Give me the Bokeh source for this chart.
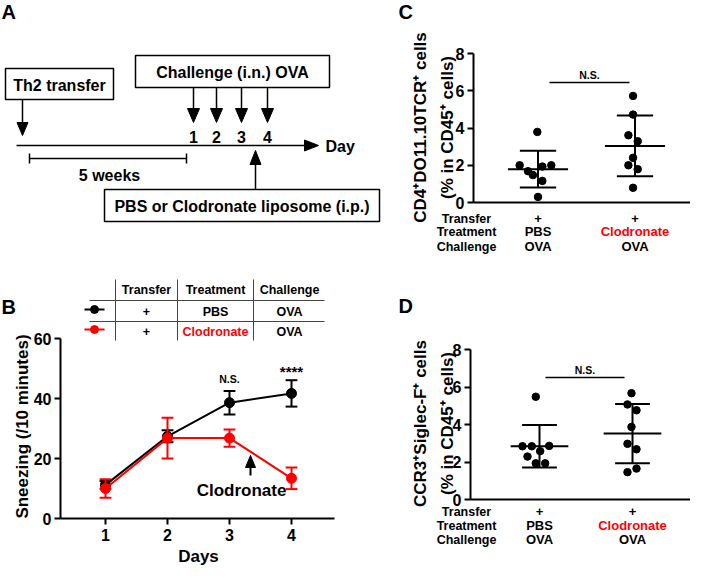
import numpy as np
from bokeh.plotting import figure
from bokeh.models import Range1d, FixedTicker, LinearAxis
from bokeh.embed import file_html
from bokeh.resources import INLINE
from bokeh.core.properties import value

FONT = "Liberation Sans"
RED = "#ff0000"

# ---------------- data ----------------
# Panel B: sneezing counts (mean +/- error)
days = [1, 2, 3, 4]
pbs_mean = [11.2, 27.4, 38.6, 41.7]
pbs_err = [1.3, 2.0, 3.9, 4.4]
clo_mean = [10.0, 26.8, 26.8, 13.4]
clo_err = [3.1, 6.8, 2.9, 3.6]
b_sig_days = [3, 4]
b_sig_text = ["N.S.", "****"]
b_sig_y = [46.4, 48.9]
b_yticks = [0, 20, 40, 60]

# Panel C: CD4+DO11.10TCR+ cells (% in CD45+)
c_pbs = [3.79, 2.00, 1.93, 2.00, 1.68, 1.47, 1.16, 0.30]
c_clo = [5.72, 4.72, 3.61, 3.29, 2.40, 2.00, 1.79, 0.79]
c_pbs_jit = [-0.007, -0.189, 0.045, 0.137, -0.103, -0.052, 0.045, 0.0]
c_clo_jit = [-0.02, -0.02, -0.068, 0.028, -0.02, -0.068, 0.028, -0.02]

# Panel D: CCR3+Siglec-F+ cells (% in CD45+)
d_pbs = [5.48, 2.84, 2.84, 2.86, 2.29, 2.58, 1.93, 1.93]
d_clo = [5.67, 5.07, 4.76, 3.87, 2.97, 2.68, 1.65, 1.46]
d_pbs_jit = [-0.04, -0.183, -0.083, 0.104, -0.129, 0.007, -0.04, 0.061]
d_clo_jit = [-0.011, -0.054, 0.043, -0.011, -0.054, 0.043, 0.043, -0.054]
cd_yticks = [0, 2, 4, 6, 8]

row_names = ["Transfer", "Treatment", "Challenge"]
group_rows = [["+", "PBS", "OVA"], ["+", "Clodronate", "OVA"]]
group_row_colors = [["black", "black", "black"], ["black", RED, "black"]]

table_header = ["Transfer", "Treatment", "Challenge"]
table_rows = [["+", "PBS", "OVA"], ["+", "Clodronate", "OVA"]]
table_colors = [["black", "black", "black"], ["black", RED, "black"]]
series_colors = ["black", RED]

# ---------------- canvas (page-pixel coordinates; page margin is 8px) ----------------
X0, X1, Y0, Y1 = 8, 698, 8, 576
p = figure(width=X1 - X0, height=Y1 - Y0, x_range=Range1d(X0, X1), y_range=Range1d(Y1, Y0),
           min_border=0, x_axis_location=None, y_axis_location=None,
           output_backend="svg", toolbar_location=None)
p.grid.visible = False
p.outline_line_color = None
p.background_fill_color = "white"
p.border_fill_color = "white"


def inv(a, pa, b, pb):
    """page pixel -> data value, from two anchor points"""
    return lambda q: a + (q - pa) * (b - a) / (pb - pa)


def add_panel_ranges(name, xm, ym):
    p.extra_x_ranges[name] = Range1d(xm(X0), xm(X1))
    p.extra_y_ranges[name] = Range1d(ym(Y1), ym(Y0))


def txt(x, y, s, size, color="black", align="center", angle=0.0, rn=None):
    kw = {}
    if rn:
        kw = dict(x_range_name=rn, y_range_name=rn)
    p.text(x=[x], y=[y], text=[s], text_font=value(FONT), text_font_style="bold",
           text_font_size=size, text_color=color, text_align=align,
           text_baseline="middle", angle=angle, **kw)


def style_axis(ax, size):
    ax.axis_line_width = 2
    ax.axis_line_color = "black"
    ax.major_tick_line_width = 2
    ax.major_tick_line_color = "black"
    ax.major_tick_out = 6
    ax.major_tick_in = 0
    ax.minor_tick_line_color = None
    ax.major_label_text_font = FONT
    ax.major_label_text_font_style = "bold"
    ax.major_label_text_font_size = size
    ax.major_label_text_color = "black"
    ax.major_label_standoff = 3


# ---------------- Panel A (schematic) ----------------
a_boxes = [(13, 121, 76, 107, "Th2 transfer"),
           (143, 337, 63, 95, "Challenge (i.n.) OVA"),
           (112, 387, 197, 229, "PBS or Clodronate liposome (i.p.)")]
for l, r, t, b, s in a_boxes:
    p.quad(left=[l], right=[r], top=[t], bottom=[b], fill_color=None,
           line_color="black", line_width=1.5)
    txt((l + r) / 2, (t + b) / 2 + 1, s, "16px")


def arrow_v(x, y_from, y_tip, L=14, w=6):
    d = 1 if y_tip > y_from else -1
    p.line([x, x], [y_from, y_tip - d * L], line_color="black", line_width=1.5)
    p.patch([x - w, x + w, x], [y_tip - d * L, y_tip - d * L, y_tip], color="black")


arrow_v(30, 107, 143, L=13, w=5.5)
challenge_x = [201, 224, 249, 275]
for i, x in enumerate(challenge_x):
    arrow_v(x, 95, 130, L=14, w=6)
    txt(x, 144, str(days[i]), "16px")
arrow_v(263, 197, 158, L=14, w=5.5)

p.line([24, 313], [153, 153], line_color="black", line_width=1.5)
p.patch([312, 312, 326], [147.5, 158.5, 153], color="black")
txt(333, 154, "Day", "16px", align="left")
p.line([37, 194], [166, 166], line_color="black", line_width=1.5)
p.line([37, 37], [161, 171], line_color="black", line_width=1.5)
p.line([194, 194], [161, 171], line_color="black", line_width=1.5)
txt(117, 183, "5 weeks", "16px")
txt(9, 19, "A", "20px", align="left")

# ---------------- Panel B ----------------
bx = inv(1, 113, 4, 299)
by = inv(0, 526, 60, 346)
add_panel_ranges("B", bx, by)
yB = LinearAxis(x_range_name="B", y_range_name="B", fixed_location=bx(68), bounds=(0, 60),
                ticker=FixedTicker(ticks=b_yticks))
xB = LinearAxis(x_range_name="B", y_range_name="B", fixed_location=0, bounds=(bx(68), bx(342)),
                ticker=FixedTicker(ticks=days))
style_axis(yB, "16px")
style_axis(xB, "16px")
xB.major_label_standoff = 4
p.add_layout(yB, "left")
p.add_layout(xB, "below")
txt(30, 434, "Sneezing (/10 minutes)", "17px", angle=np.pi / 2)
txt(206, 564, "Days", "17px")

cap = 0.095
for means, errs, col in ((pbs_mean, pbs_err, series_colors[0]), (clo_mean, clo_err, series_colors[1])):
    lo = [m - e for m, e in zip(means, errs)]
    hi = [m + e for m, e in zip(means, errs)]
    kw = dict(x_range_name="B", y_range_name="B")
    p.segment(x0=days, y0=lo, x1=days, y1=hi, line_color=col, line_width=2, **kw)
    p.segment(x0=[d - cap for d in days], y0=hi, x1=[d + cap for d in days], y1=hi,
              line_color=col, line_width=2, **kw)
    p.segment(x0=[d - cap for d in days], y0=lo, x1=[d + cap for d in days], y1=lo,
              line_color=col, line_width=2, **kw)
    p.line(days, means, line_color=col, line_width=2, **kw)
    p.scatter(days, means, size=10, color=col, **kw)

for d, s, yv in zip(b_sig_days, b_sig_text, b_sig_y):
    txt(d, yv, s, "10.5px" if s == "N.S." else "15px", rn="B")

# Clodronate arrow + label
p.line([258, 258], [483, 474], line_color="black", line_width=2)
p.patch([253, 263, 258], [475, 475, 463], color="black")
txt(249, 498, "Clodronate", "17px")

# legend table
for yy in (308, 329):
    p.line([97, 332], [yy, yy], line_color="#444444", line_width=1)
for xx in (123, 185, 261):
    p.line([xx, xx], [287, 348], line_color="#444444", line_width=1)
col_x = [154, 223, 297]
for h, cx in zip(table_header, col_x):
    txt(cx, 297, h, "12.5px")
for r, (vals, cols, yy) in enumerate(zip(table_rows, table_colors, (319, 339))):
    for v, c, cx in zip(vals, cols, col_x):
        txt(cx, yy, v, "12.5px", color=c)
    p.line([92, 112], [yy - 2, yy - 2], line_color=series_colors[r], line_width=2)
    p.scatter([102], [yy - 2], size=8, color=series_colors[r])
txt(9, 314, "B", "20px", align="left")


# ---------------- Panels C and D ----------------
def scatter_panel(name, axis_x, g1, g2, y0pg, y8pg, pbs, clo, jp, jc,
                  line1, line2, ylab_c, ns_l, ns_r, ns_pg, rows_y, letter_y):
    xm = inv(1, g1, 2, g2)
    ym = inv(0, y0pg, 8, y8pg)
    add_panel_ranges(name, xm, ym)
    kw = dict(x_range_name=name, y_range_name=name)
    yax = LinearAxis(fixed_location=xm(axis_x), bounds=(0, 8),
                     ticker=FixedTicker(ticks=cd_yticks), **kw)
    style_axis(yax, "16px")
    p.add_layout(yax, "left")
    xax = LinearAxis(fixed_location=0, bounds=(xm(axis_x), xm(X1)),
                     ticker=FixedTicker(ticks=[]), **kw)
    style_axis(xax, "1px")
    xax.major_label_text_color = None
    p.add_layout(xax, "below")

    for gx, vals, jit in ((1, pbs, jp), (2, clo, jc)):
        m = float(np.mean(vals))
        sd = float(np.std(vals, ddof=1))
        p.segment(x0=[gx - 0.31], y0=[m], x1=[gx + 0.31], y1=[m], line_color="black", line_width=2, **kw)
        p.segment(x0=[gx], y0=[m - sd], x1=[gx], y1=[m + sd], line_color="black", line_width=2, **kw)
        for yv in (m - sd, m + sd):
            p.segment(x0=[gx - 0.187], y0=[yv], x1=[gx + 0.187], y1=[yv],
                      line_color="black", line_width=2, **kw)
        p.scatter([gx + j for j in jit], vals, size=7.5, color="black", **kw)

    p.line([ns_l, ns_r], [ns_pg, ns_pg], line_color="black", line_width=1.5)
    txt((ns_l + ns_r) / 2, ns_pg - 8, "N.S.", "10.5px")

    for nm, yy in zip(row_names, rows_y):
        txt(474, yy, nm, "12.5px")
    for gi, gpx in enumerate((g1, g2)):
        for v, c, yy in zip(group_rows[gi], group_row_colors[gi], rows_y):
            txt(gpx, yy, v, "13px", color=c)

    txt(428, ylab_c, line1, "17px", angle=np.pi / 2)
    txt(455, ylab_c, line2, "17px", angle=np.pi / 2)
    txt(406, letter_y, name, "20px", align="left")


scatter_panel("C", 481, 545.5, 642.5, 210, 61, c_pbs, c_clo, c_pbs_jit, c_clo_jit,
              "CD4\u207aDO11.10TCR\u207a cells", "(% in CD45\u207a cells)", 135,
              557, 637, 90, (226, 239, 254), 19)
scatter_panel("D", 478, 547, 640, 507, 357, d_pbs, d_clo, d_pbs_jit, d_clo_jit,
              "CCR3\u207aSiglec-F\u207a cells", "(% in CD45\u207a cells)", 431,
              553, 632, 385, (519, 533, 547), 313)

open("out.html", "w").write(file_html(p, INLINE))
